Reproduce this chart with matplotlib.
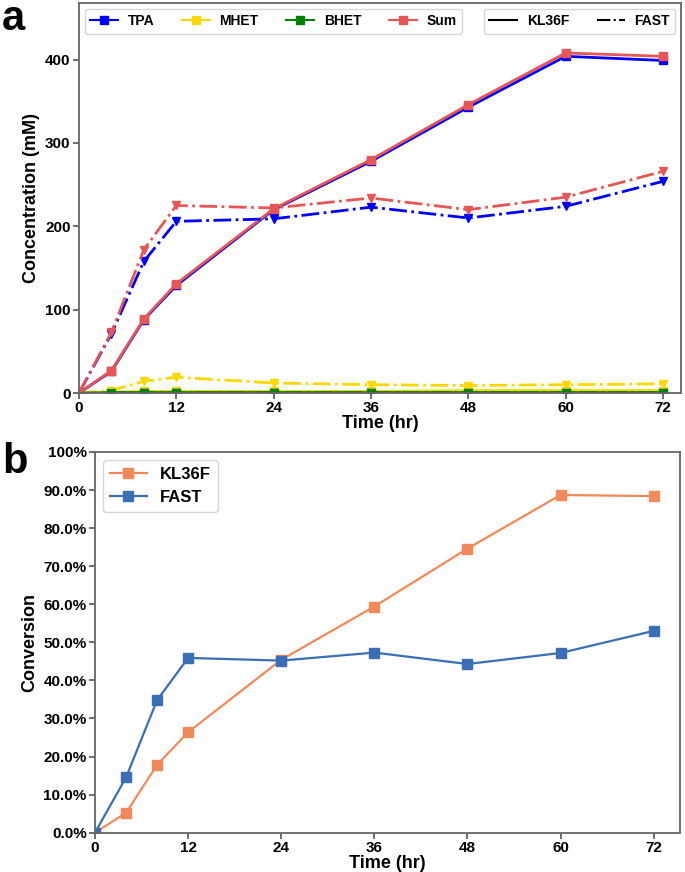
import matplotlib.pyplot as plt
from matplotlib.lines import Line2D
from matplotlib.ticker import FuncFormatter

plt.rcParams['font.family'] = ['Liberation Sans', 'DejaVu Sans']
plt.rcParams['font.weight'] = 'bold'

time = [0, 4, 8, 12, 24, 36, 48, 60, 72]

# panel a, concentration (mM)
tpa_kl = [0, 26, 88, 129, 220, 278, 343, 404, 399]
mhet_kl = [0, 1, 2, 2, 2, 2, 3, 3, 3]
bhet_kl = [0, 0.5, 0.5, 0.5, 0.5, 0.5, 0.5, 0.5, 0.5]
sum_kl = [0, 27, 89, 131, 221, 280, 346, 408, 404]

tpa_fast = [0, 71, 158, 206, 209, 223, 210, 224, 254]
mhet_fast = [0, 3, 14, 19, 12, 10, 9, 10, 11]
bhet_fast = [0, 0.5, 0.5, 0.5, 0.5, 0.5, 0.5, 0.5, 0.5]
sum_fast = [0, 73, 172, 225, 222, 234, 220, 235, 266]

# panel b, conversion
conv_kl = [0, 0.052, 0.178, 0.264, 0.454, 0.594, 0.746, 0.887, 0.884]
conv_fast = [0, 0.145, 0.348, 0.459, 0.452, 0.473, 0.443, 0.472, 0.530]

c_tpa = 'blue'
c_mhet = 'gold'
c_bhet = 'green'
c_sum = '#e85555'
c_kl = '#f2895a'
c_fast = '#3a6fb5'

fig = plt.figure(figsize=(6.85, 8.72), dpi=100)
ax1 = fig.add_axes([0.1153, 0.5493, 0.8787, 0.4473])
ax2 = fig.add_axes([0.1387, 0.0451, 0.854, 0.4366])

for ax in (ax1, ax2):
    for s in ax.spines.values():
        s.set_color('#666666')
        s.set_linewidth(1.3)
    ax.tick_params(labelsize=11, width=1.2, length=4, pad=2, color='#555555')

# a
ax1.plot(time, tpa_kl, '-s', color=c_tpa, lw=2, ms=6)
ax1.plot(time, mhet_kl, '-s', color=c_mhet, lw=2, ms=6)
ax1.plot(time, bhet_kl, '-s', color=c_bhet, lw=2, ms=6)
ax1.plot(time, sum_kl, '-s', color=c_sum, lw=2, ms=6)
ax1.plot(time, tpa_fast, '-.v', color=c_tpa, lw=2, ms=6)
ax1.plot(time, mhet_fast, '-.v', color=c_mhet, lw=2, ms=6)
ax1.plot(time, bhet_fast, '-.v', color=c_bhet, lw=2, ms=6)
ax1.plot(time, sum_fast, '-.v', color=c_sum, lw=2, ms=6)

ax1.set_xlim(0, 74.2)
ax1.set_ylim(0, 468)
ax1.set_xticks([0, 12, 24, 36, 48, 60, 72])
ax1.set_yticks([0, 100, 200, 300, 400])
ax1.set_xlabel('Time (hr)', fontsize=13, fontweight='bold', labelpad=0)
ax1.set_ylabel('Concentration (mM)', fontsize=13, fontweight='bold', labelpad=4)

h1 = [Line2D([], [], color=c, marker='s', lw=1.5, ms=6) for c in (c_tpa, c_mhet, c_bhet, c_sum)]
leg1 = ax1.legend(h1, ['TPA', 'MHET', 'BHET', 'Sum'], loc='upper left', ncol=4,
                  fontsize=10, handlelength=2.0, columnspacing=2.0,
                  borderaxespad=0.4, borderpad=0.4, handletextpad=0.7)
ax1.add_artist(leg1)
h2 = [Line2D([], [], color='black', ls='-', lw=1.5),
      Line2D([], [], color='black', ls='-.', lw=1.5)]
ax1.legend(h2, ['KL36F', 'FAST'], loc='upper right', ncol=2, fontsize=10,
           handlelength=2.0, columnspacing=2.0, borderaxespad=0.4,
           borderpad=0.4, handletextpad=0.7)

# b
ax2.plot(time, conv_kl, '-s', color=c_kl, lw=1.6, ms=7, label='KL36F')
ax2.plot(time, conv_fast, '-s', color=c_fast, lw=1.6, ms=7, label='FAST')
ax2.set_xlim(0, 75.4)
ax2.set_ylim(0, 1.0)
ax2.set_xticks([0, 12, 24, 36, 48, 60, 72])
ax2.set_yticks([i / 10 for i in range(11)])
ax2.yaxis.set_major_formatter(FuncFormatter(
    lambda v, p: '100%' if v >= 0.999 else '%.1f%%' % (v * 100)))
ax2.set_xlabel('Time (hr)', fontsize=13, fontweight='bold', labelpad=0)
ax2.set_ylabel('Conversion', fontsize=13, fontweight='bold', labelpad=4)
ax2.legend(loc='upper left', fontsize=12, handlelength=2.2,
           borderaxespad=0.5, handletextpad=0.8)

fig.text(0.003, 0.9656, 'a', fontsize=30, fontweight='bold', va='baseline')
fig.text(0.003, 0.4576, 'b', fontsize=30, fontweight='bold', va='baseline')

fig.savefig('out.png', dpi=100)
